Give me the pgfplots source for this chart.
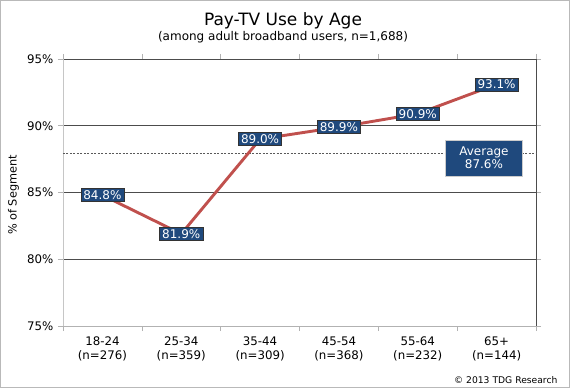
\documentclass[border=0pt]{standalone}
\usepackage{pgfplots}
\pgfplotsset{compat=1.18}
\usepackage{fontspec}
\setmainfont{DejaVu Sans}
\definecolor{boxblue}{HTML}{1F497D}
\definecolor{linered}{HTML}{C0504D}
\begin{document}
\begin{tikzpicture}
\useasboundingbox (0pt,0pt) rectangle (570pt,388pt);
\draw[gray!55, line width=1pt] (0.5pt,0.5pt) rectangle (569.5pt,387.5pt);
\node[font=\fontsize{17}{20}\selectfont, anchor=base] at (283pt,362pt) {Pay-TV Use by Age};
\node[font=\fontsize{12}{14}\selectfont, anchor=base] at (283pt,347.5pt) {(among adult broadband users, n=1,688)};
\node[font=\fontsize{11.3}{13}\selectfont, rotate=90] at (13.5pt,193pt) {\% of Segment};
\node[font=\fontsize{9.2}{11}\selectfont, anchor=base east] at (561pt,5pt) {\textcopyright{} 2013 TDG Research};
\begin{axis}[
  at={(63pt,62pt)}, anchor=south west, scale only axis, width=473pt, height=267pt,
  xmin=-0.5, xmax=5.5, ymin=75, ymax=95,
  clip=false,
  axis line style={draw=none},
  ytick={75,80,...,95},
  yticklabel={\pgfmathprintnumber{\tick}\%},
  /pgf/number format/assume math mode=true,
  yticklabel style={font=\fontsize{11.8}{13}\selectfont, xshift=-1pt},
  ymajorgrids, major grid style={gray!60!black, line width=0.8pt},
  tick align=outside, major tick length=5pt,
  ytick style={gray!60, line width=0.6pt},
  xtick={0,...,5},
  xticklabels={{18-24\\(n=276)},{25-34\\(n=359)},{35-44\\(n=309)},{45-54\\(n=368)},{55-64\\(n=232)},{65+\\(n=144)}},
  xticklabel style={align=center, font=\fontsize{11.8}{14.5}\selectfont, yshift=-2pt},
  xtick style={draw=none},
  extra x ticks={-0.5,0.5,1.5,2.5,3.5,4.5,5.5},
  extra x tick labels={},
  extra x tick style={grid=none, xtick style={draw=gray!60, line width=0.6pt}},
]
\draw[gray!45, line width=0.8pt] (rel axis cs:0,0) -- (rel axis cs:0,1);
\draw[gray!60, line width=0.8pt] (rel axis cs:0,0) -- (rel axis cs:1,0);
\draw[gray!60!black, line width=0.8pt] (rel axis cs:1,0) -- (rel axis cs:1,1);
\addplot[gray!70!black, line width=0.6pt, dash pattern=on 2pt off 1.5pt] coordinates {(-0.5,87.9) (5.5,87.9)};
\addplot[linered, line width=2.9pt,
  nodes near coords={\pgfmathprintnumber[fixed, fixed zerofill, precision=1]{\pgfplotspointmeta}\%},
  nodes near coords align={center},
  every node near coord/.append style={anchor=center, fill=boxblue, draw=black!80, line width=0.5pt, text=white, inner xsep=2.5pt, inner ysep=2pt, font=\fontsize{12}{14}\selectfont}
] coordinates {(0,84.8) (1,81.9) (2,89.0) (3,89.9) (4,90.9) (5,93.1)};
\node[fill=boxblue, draw=gray!40, line width=0.5pt, text=white, align=center, minimum width=77pt, minimum height=36pt, inner sep=1pt, font=\fontsize{12}{13.5}\selectfont] at (axis cs:4.84,87.6) {Average\\87.6\%};
\end{axis}
\end{tikzpicture}
\end{document}
